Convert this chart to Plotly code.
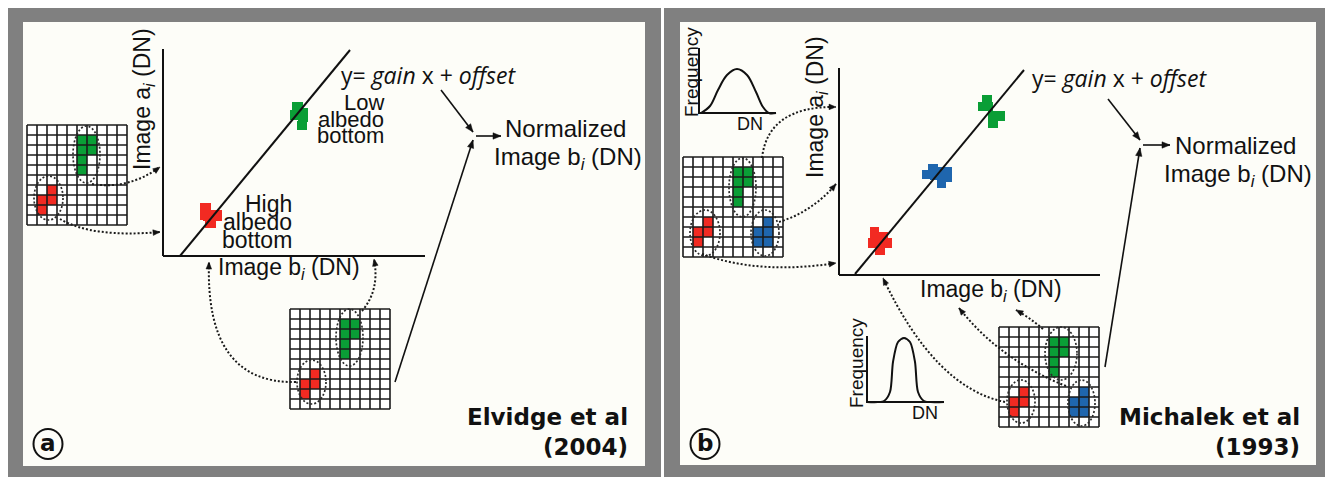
import plotly.graph_objects as go
import math

W, H = 1333, 477
PAGE_MARGIN = 8   # the browser's default body margin; the figure is placed after it

# ---------------- data (diagram geometry) ----------------
GRAY = '#808080'
CREAM = '#fdfdf8'
GREEN = '#0a9e36'
RED = '#f22a22'
BLUE = '#1f66ae'
INK = '#111111'

PANEL_OUTER = [[7, 6, 661, 490], [664, 6, 1345, 490]]
PANEL_INNER = [[23, 22, 645, 466], [680, 22, 1316, 465]]

CELL = 10
NCELL = 10
GRID_ORIGINS = [(27, 125), (290, 309), (683, 157), (999, 327)]
GRID_HAS_BLUE = [False, False, True, True]
GREEN_CELLS = [(5, 1), (6, 1), (5, 2), (6, 2), (5, 3), (5, 4)]
RED_CELLS = [(2, 6), (1, 7), (2, 7), (1, 8)]
BLUE_CELLS = [(8, 6), (7, 7), (8, 7), (7, 8), (8, 8)]

ELLIPSES = [
    [73, 126, 100, 183], [34, 176, 63, 220],          # panel a, left grid
    [336, 309, 363, 366], [297, 360, 326, 404],       # panel a, bottom grid
    [729, 158, 756, 217], [690, 210, 720, 256], [751, 210, 779, 256],   # panel b, top grid
    [1045, 327, 1077, 380], [1007, 380, 1035, 423], [1068, 380, 1095, 426],  # panel b, bottom grid
]

CLUSTER_RED_A = [[200, 203, 211, 212], [203, 210, 222, 221], [200, 212, 210, 220], [205, 220, 216, 228]]
CLUSTER_GREEN_A = [[292, 102, 303, 111], [290, 110, 300, 120], [298, 108, 308, 122], [297, 121, 307, 130]]
CLUSTER_GREEN_B = [[982, 95, 992, 104], [978, 102, 993, 111], [988, 111, 1005, 121], [988, 119, 998, 128]]
CLUSTER_BLUE_B = [[928, 164, 938, 173], [922, 170, 932, 179], [930, 170, 942, 180], [937, 167, 952, 182], [937, 180, 946, 188]]
CLUSTER_RED_B = [[870, 227, 879, 236], [870, 232, 888, 239], [868, 238, 892, 248], [875, 247, 885, 255]]

AXIS_LINES = [[163, 49, 163, 256], [163, 256, 425, 256], [839, 68, 839, 275], [839, 275, 1100, 275]]
FIT_LINES = [[180, 256, 350, 50], [855, 274, 1024, 70]]

SOLID_ARROWS = [
    [441, 90, 473, 132], [476, 136, 501, 136], [395, 382, 473, 140],
    [1108, 99, 1140, 140], [1143, 145, 1170, 145], [1105, 367, 1140, 148],
]
# dotted curved arrows: start, control, end
DOTTED_ARROWS = [
    [(92, 184), (128, 190), (160, 167)],
    [(60, 219), (92, 238), (160, 232)],
    [(296, 382), (205, 384), (209, 262)],
    [(362, 311), (380, 290), (374, 259)],
    [(762, 158), (768, 106), (836, 107)],
    [(779, 222), (812, 212), (836, 184)],
    [(702, 254), (760, 275), (836, 263)],
    [(1005, 402), (935, 388), (883, 278)],
    [(1066, 386), (1000, 360), (959, 308)],
    [(1043, 329), (1030, 318), (1016, 310)],
]

HIST_WIDE_X = [701, 710, 718, 727, 737, 747, 756, 763, 769, 776]
HIST_WIDE_Y = [113, 106, 90, 75, 69, 75, 92, 107, 113, 113]
HIST_NARROW_X = [867, 884, 890, 893, 898, 904, 910, 915, 918, 924, 944]
HIST_NARROW_Y = [402, 401, 392, 362, 342, 338, 342, 362, 392, 401, 402]
HIST_AXES = [[699, 48, 699, 113, 776, 113], [867, 336, 867, 402, 944, 402]]

FONT = 'Liberation Sans, Arial, Helvetica, sans-serif'
ITALIC_FONT = 'Open Sans, Noto Sans, sans-serif'
BOLD_FONT = 'DejaVu Sans, Liberation Sans, sans-serif'

# ---------------- build figure ----------------
shapes = []


def rect(b, fill, line_color=None, lw=0, layer='above'):
    shapes.append(dict(type='rect', x0=b[0], y0=b[1], x1=b[2], y1=b[3], xref='x', yref='y',
                       fillcolor=fill, line=dict(color=line_color or fill, width=lw), layer=layer))


def line(x0, y0, x1, y1, w=2, color=INK, dash=None):
    ln = dict(color=color, width=w)
    if dash:
        ln['dash'] = dash
    shapes.append(dict(type='line', x0=x0, y0=y0, x1=x1, y1=y1, xref='x', yref='y', line=ln))


def arrowhead(tip, frm, length=8, half=3.2):
    dx, dy = tip[0] - frm[0], tip[1] - frm[1]
    n = math.hypot(dx, dy) or 1
    ux, uy = dx / n, dy / n
    px, py = -uy, ux
    bx, by = tip[0] - ux * length, tip[1] - uy * length
    path = 'M {:.1f},{:.1f} L {:.1f},{:.1f} L {:.1f},{:.1f} Z'.format(
        tip[0], tip[1], bx + px * half, by + py * half, bx - px * half, by - py * half)
    shapes.append(dict(type='path', path=path, xref='x', yref='y', fillcolor=INK,
                       line=dict(color=INK, width=0.5)))


# backgrounds
for b in PANEL_OUTER:
    rect(b, GRAY, layer='below')
for b in PANEL_INNER:
    rect(b, CREAM, layer='below')

# grids
for (gx, gy), has_blue in zip(GRID_ORIGINS, GRID_HAS_BLUE):
    rect([gx, gy, gx + CELL * NCELL, gy + CELL * NCELL], '#ffffff')
    cell_sets = [(GREEN_CELLS, GREEN), (RED_CELLS, RED)] + ([(BLUE_CELLS, BLUE)] if has_blue else [])
    for cells, col in cell_sets:
        for (c, r) in cells:
            rect([gx + c * CELL, gy + r * CELL, gx + (c + 1) * CELL, gy + (r + 1) * CELL], col)
    for k in range(NCELL + 1):
        line(gx + k * CELL, gy, gx + k * CELL, gy + CELL * NCELL, w=1.6, color='#1a1a1a')
        line(gx, gy + k * CELL, gx + CELL * NCELL, gy + k * CELL, w=1.6, color='#1a1a1a')

# dotted ellipses
for e in ELLIPSES:
    shapes.append(dict(type='circle', x0=e[0], y0=e[1], x1=e[2], y1=e[3], xref='x', yref='y',
                       line=dict(color='#2a2a2a', width=1.7, dash='2px,2px')))

# clusters
for cl, col in [(CLUSTER_RED_A, RED), (CLUSTER_GREEN_A, GREEN), (CLUSTER_GREEN_B, GREEN),
                (CLUSTER_BLUE_B, BLUE), (CLUSTER_RED_B, RED)]:
    for b in cl:
        rect(b, col)

# axes and fit lines
for a in AXIS_LINES:
    line(*a, w=2)
for f in FIT_LINES:
    line(*f, w=2)

# solid arrows
for a in SOLID_ARROWS:
    line(a[0], a[1], a[2], a[3], w=1.6)
    arrowhead((a[2], a[3]), (a[0], a[1]))

# dotted arrows
for s, c, e in DOTTED_ARROWS:
    path = 'M {},{} Q {},{} {},{}'.format(s[0], s[1], c[0], c[1], e[0], e[1])
    shapes.append(dict(type='path', path=path, xref='x', yref='y',
                       line=dict(color='#1a1a1a', width=2, dash='2px,2px')))
    arrowhead(e, c, length=7, half=2.8)

# histogram axes
for hx in HIST_AXES:
    path = 'M {},{} L {},{} L {},{}'.format(*hx)
    shapes.append(dict(type='path', path=path, xref='x', yref='y', line=dict(color=INK, width=2)))

# circle labels
for cx, cy in [(48, 444), (705, 444)]:
    shapes.append(dict(type='circle', x0=cx - 14.5, y0=cy - 15, x1=cx + 14.5, y1=cy + 15,
                       xref='x', yref='y', line=dict(color=INK, width=2)))

fig = go.Figure()
fig.add_trace(go.Scatter(x=HIST_WIDE_X, y=HIST_WIDE_Y, mode='lines',
                         line=dict(color=INK, width=2, shape='spline', smoothing=1.0),
                         hoverinfo='skip', showlegend=False))
fig.add_trace(go.Scatter(x=HIST_NARROW_X, y=HIST_NARROW_Y, mode='lines',
                         line=dict(color=INK, width=2, shape='spline', smoothing=0.8),
                         hoverinfo='skip', showlegend=False))

ann = []


def text(x, y, t, size=23, family=FONT, xanchor='center', angle=0, color=INK):
    ann.append(dict(x=x, y=y, xref='x', yref='y', text=t, showarrow=False, xanchor=xanchor,
                    yanchor='middle', textangle=angle, font=dict(family=family, size=size, color=color)))


SUB_I = '<sub><i>i</i></sub>'
# panel a
text(143, 99, 'Image a' + SUB_I + ' (DN)', angle=-90)
text(289, 268, 'Image b' + SUB_I + ' (DN)')
text(428, 75, 'y= <i>gain</i> x + <i>offset</i>', size=23, family=ITALIC_FONT)
text(386, 102, 'Low', size=22, xanchor='right')
text(386, 119, 'albedo', size=22, xanchor='right')
text(386, 135, 'bottom', size=22, xanchor='right')
text(294, 204, 'High', size=23, xanchor='right')
text(294, 222, 'albedo', size=23, xanchor='right')
text(294, 240, 'bottom', size=23, xanchor='right')
text(565, 128, 'Normalized', size=24)
text(568, 158, 'Image b' + SUB_I + ' (DN)', size=24)
text(630, 417, '<b>Elvidge et al</b>', size=23, family=BOLD_FONT, xanchor='right')
text(630, 447, '<b>(2004)</b>', size=23, family=BOLD_FONT, xanchor='right')
text(48, 443, '<b>a</b>', size=23, family=BOLD_FONT)

# panel b
text(816, 107, 'Image a' + SUB_I + ' (DN)', angle=-90)
text(991, 290, 'Image b' + SUB_I + ' (DN)')
text(1119, 78, 'y= <i>gain</i> x + <i>offset</i>', size=23, family=ITALIC_FONT)
text(1235, 145, 'Normalized', size=24)
text(1238, 175, 'Image b' + SUB_I + ' (DN)', size=24)
text(691, 72, 'Frequency', size=19, angle=-90)
text(750, 124, 'DN', size=18)
text(856, 363, 'Frequency', size=19, angle=-90)
text(925, 413, 'DN', size=18)
text(1302, 417, '<b>Michalek et al</b>', size=23, family=BOLD_FONT, xanchor='right')
text(1302, 447, '<b>(1993)</b>', size=23, family=BOLD_FONT, xanchor='right')
text(705, 443, '<b>b</b>', size=23, family=BOLD_FONT)

# the figure starts after the page margin, so its axes start there too
fig.update_layout(
    width=W - PAGE_MARGIN, height=H - PAGE_MARGIN, margin=dict(l=0, r=0, t=0, b=0),
    paper_bgcolor='#ffffff', plot_bgcolor='#ffffff',
    xaxis=dict(range=[PAGE_MARGIN, W], visible=False, fixedrange=True),
    yaxis=dict(range=[H, PAGE_MARGIN], visible=False, fixedrange=True),
    shapes=shapes, annotations=ann, showlegend=False,
)
fig.write_html('out.html')
